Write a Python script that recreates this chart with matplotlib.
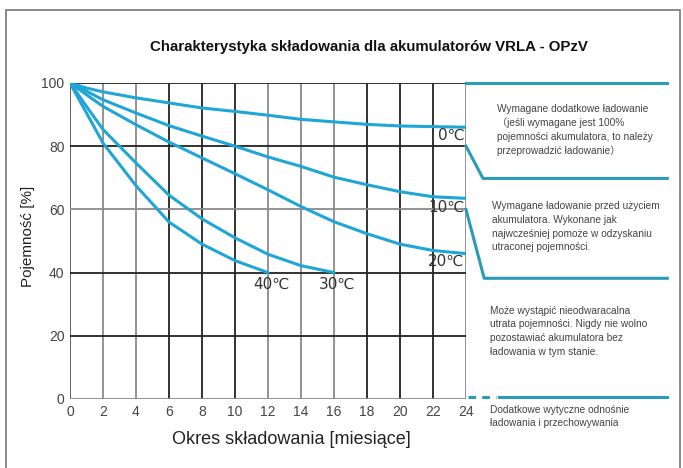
import matplotlib
matplotlib.use("Agg")
import matplotlib.pyplot as plt
from matplotlib.patches import Rectangle

plt.rcParams['font.family'] = ['Liberation Sans', 'Noto Sans CJK SC', 'DejaVu Sans']

# odczyty z wykresu (miesiace -> pojemnosc %)
x_long = [0, 1, 2, 4, 6, 8, 10, 12, 14, 16, 18, 20, 22, 24]
cap_0C = [100, 98.4, 97.2, 95.3, 93.7, 92.1, 91.0, 89.8, 88.5, 87.7, 86.9, 86.4, 86.2, 86.0]
cap_10C = [100, 97.4, 94.7, 90.5, 86.5, 83.2, 80.0, 76.6, 73.6, 70.2, 67.8, 65.6, 64.0, 63.5]
cap_20C = [100, 96.3, 92.6, 86.8, 81.3, 76.3, 71.3, 66.2, 60.9, 56.1, 52.3, 49.0, 47.0, 46.0]
x_30 = [0, 1, 2, 4, 6, 8, 10, 12, 14, 16]
cap_30C = [100, 92.6, 85.3, 74.7, 64.5, 57.0, 51.0, 45.8, 42.2, 40.0]
x_40 = [0, 1, 2, 4, 6, 8, 10, 12]
cap_40C = [100, 90.5, 81.0, 67.5, 56.0, 49.0, 43.8, 40.0]

xticks = list(range(0, 25, 2))
yticks = [0, 20, 40, 60, 80, 100]
dark_x = [6, 8, 10, 18, 20, 22]
dark_y = [100, 80, 40, 20]

opis = [
    "Wymagane dodatkowe ładowanie\n（jeśli wymagane jest 100%\npojemności akumulatora, to należy\nprzeprowadzić ładowanie）",
    "Wymagane ładowanie przed użyciem\nakumulatora. Wykonane jak\nnajwcześniej pomoże w odzyskaniu\nutraconej pojemności.",
    "Może wystąpić nieodwaracalna\nutrata pojemności. Nigdy nie wolno\npozostawiać akumulatora bez\nładowania w tym stanie.",
    "Dodatkowe wytyczne odnośnie\nładowania i przechowywania",
]

blue = '#1fa6d6'
teal = '#2a9bb8'

fig = plt.figure(figsize=(6.83, 4.68), dpi=100)
fig.patches.append(Rectangle((6 / 683, -0.1), 674 / 683, 1.1 - 10 / 468, transform=fig.transFigure,
                             fill=False, ec='#777777', lw=1.2))
ax = fig.add_axes([70 / 683, 1 - 399 / 468, 396 / 683, 316 / 468])
ax.set_xlim(0, 24)
ax.set_ylim(0, 100)
for s in ax.spines.values():
    s.set_visible(False)

ax.axvline(0, color='#555555', lw=1.3, zorder=1)
for x in xticks[1:]:
    ax.axvline(x, color='#222222' if x in dark_x else '#8a8a8a', lw=1.3, zorder=1)
for y in yticks:
    ax.axhline(y, color='#222222' if y in dark_y else '#8a8a8a', lw=1.3, zorder=1)

for xs, ys in [(x_long, cap_0C), (x_long, cap_10C), (x_long, cap_20C), (x_30, cap_30C), (x_40, cap_40C)]:
    ax.plot(xs, ys, color=blue, lw=2.2, zorder=3, solid_capstyle='round')

lab = dict(fontsize=11, color='#333333', family=['DejaVu Sans'])
ax.text(23.9, 83.5, '0℃', ha='right', va='center', **lab)
ax.text(23.9, 60.5, '10℃', ha='right', va='center', **lab)
ax.text(23.9, 43.5, '20℃', ha='right', va='center', **lab)
ax.text(12.2, 36.2, '40℃', ha='center', va='center', **lab)
ax.text(16.2, 36.2, '30℃', ha='center', va='center', **lab)

ax.set_xticks(xticks)
ax.set_yticks(yticks)
ax.tick_params(length=0, labelsize=10, labelcolor='#444444', pad=4)
ax.set_xlabel('Okres składowania [miesiące]', fontsize=13, color='#222222')
ax.xaxis.set_label_coords(291 / 683, 1 - 440 / 468, transform=fig.transFigure)
ax.xaxis.label.set_va('center')
ax.set_ylabel('Pojemność [%]', fontsize=11, color='#222222')
ax.yaxis.set_label_coords(28 / 683, 1 - 236 / 468, transform=fig.transFigure)
ax.yaxis.label.set_va('center')

# panel po prawej
kw = dict(color=teal, lw=2.2, clip_on=False, zorder=2)
ax.plot([24, 36.2], [100, 100], **kw)
ax.plot([24, 25.03, 36.2], [80, 69.8, 69.8], **kw)
ax.plot([24, 25.1, 36.2], [60, 38.2, 38.2], **kw)
ax.plot([24.1, 25.8], [0.5, 0.5], color=teal, lw=2.2, clip_on=False, ls=(0, (2.5, 2)))
ax.plot([26.0, 36.2], [0.5, 0.5], **kw)

tkw = dict(fontsize=7.3, color='#444444', va='top', ha='left', linespacing=1.45, clip_on=False)
ax.text(25.9, 93.5, opis[0], **tkw)
ax.text(25.6, 62.5, opis[1], **tkw)
ax.text(25.45, 29.5, opis[2], **tkw)
ax.text(25.45, -1.8, opis[3], **tkw)

fig.suptitle('Charakterystyka składowania dla akumulatorów VRLA - OPzV', x=369 / 683, y=1 - 47 / 468,
             va='center', fontsize=10.8, fontweight='bold', color='#111111')

fig.savefig('out.png', dpi=100)
